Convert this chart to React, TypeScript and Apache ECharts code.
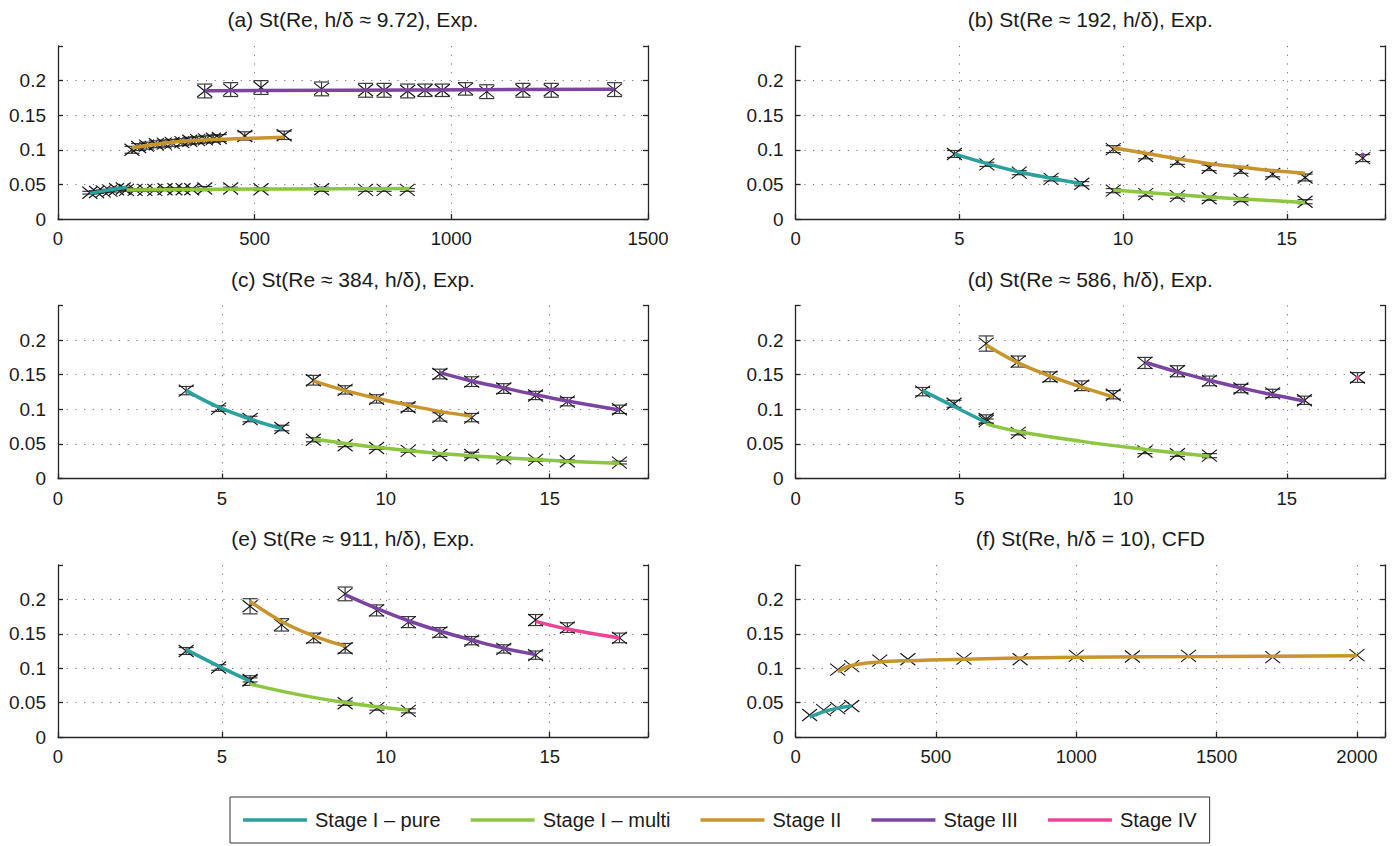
import React, { useEffect, useRef } from 'react';
import * as echarts from 'echarts';

// ---------- legend / stages ----------
const STAGES = ['Stage I – pure', 'Stage I – multi', 'Stage II', 'Stage III', 'Stage IV'];
const COLORS = ['#2aa19c', '#8dc641', '#c8952c', '#7b44a0', '#ec4496'];

// ---------- tick labels ----------
const Y_TICKS = [0, 0.05, 0.1, 0.15, 0.2];
const X_TICKS_A = [0, 500, 1000, 1500];
const X_TICKS_H = [0, 5, 10, 15];
const X_TICKS_F = [0, 500, 1000, 1500, 2000];

const TITLES = [
  '(a) St(Re, h/δ ≈ 9.72), Exp.',
  '(b) St(Re ≈ 192, h/δ), Exp.',
  '(c) St(Re ≈ 384, h/δ), Exp.',
  '(d) St(Re ≈ 586, h/δ), Exp.',
  '(e) St(Re ≈ 911, h/δ), Exp.',
  '(f) St(Re, h/δ = 10), CFD',
];

// ---------- panel (a): [x, St, error] ----------
const a_pure_pts = [[81, 0.038, 0.002], [98, 0.039, 0.002], [115, 0.04, 0.002], [132, 0.041, 0.002], [149, 0.043, 0.002], [166, 0.044, 0.002]];
const a_pure_fit = [[81, 0.037], [120, 0.041], [174, 0.046]];
const a_multi_pts = [[174, 0.042, 0.002], [196, 0.042, 0.002], [221, 0.042, 0.002], [246, 0.042, 0.002], [272, 0.043, 0.002], [297, 0.043, 0.002], [318, 0.043, 0.002], [340, 0.043, 0.002], [373, 0.044, 0.003], [439, 0.044, 0.002], [516, 0.043, 0.002], [670, 0.043, 0.003], [782, 0.042, 0.002], [829, 0.042, 0.002], [888, 0.042, 0.002]];
const a_multi_fit = [[174, 0.042], [400, 0.043], [894, 0.044]];
const a_II_pts = [[188, 0.1, 0.005], [205, 0.104, 0.005], [225, 0.106, 0.005], [250, 0.108, 0.005], [270, 0.109, 0.005], [290, 0.11, 0.005], [315, 0.111, 0.005], [335, 0.113, 0.005], [355, 0.114, 0.005], [375, 0.115, 0.005], [395, 0.116, 0.005], [410, 0.117, 0.005], [475, 0.12, 0.006], [575, 0.121, 0.006]];
const a_II_fit = [[188, 0.103], [250, 0.108], [331, 0.113], [450, 0.116], [575, 0.118]];
const a_III_pts = [[373, 0.185, 0.01], [439, 0.187, 0.01], [516, 0.19, 0.01], [670, 0.188, 0.01], [782, 0.186, 0.01], [829, 0.186, 0.01], [889, 0.185, 0.01], [933, 0.186, 0.009], [977, 0.186, 0.009], [1036, 0.188, 0.009], [1090, 0.184, 0.01], [1182, 0.186, 0.01], [1254, 0.186, 0.01], [1415, 0.187, 0.01]];
const a_III_fit = [[373, 0.1855], [900, 0.1865], [1415, 0.1875]];

// ---------- panel (b) ----------
const b_pure_pts = [[4.85, 0.094, 0.005], [5.84, 0.079, 0.003], [6.83, 0.067, 0.003], [7.8, 0.058, 0.003], [8.74, 0.051, 0.003]];
const b_pure_fit = [[4.85, 0.094], [5.84, 0.08], [6.83, 0.068], [7.8, 0.059], [8.74, 0.051]];
const b_multi_pts = [[9.7, 0.041, 0.003], [10.69, 0.036, 0.003], [11.66, 0.033, 0.003], [12.63, 0.03, 0.003], [13.6, 0.028, 0.003], [15.56, 0.025, 0.003]];
const b_multi_fit = [[9.7, 0.042], [11.66, 0.035], [13.6, 0.029], [15.56, 0.024]];
const b_II_pts = [[9.7, 0.101, 0.005], [10.69, 0.091, 0.004], [11.66, 0.083, 0.004], [12.63, 0.074, 0.004], [13.6, 0.07, 0.004], [14.57, 0.065, 0.004], [15.56, 0.06, 0.005]];
const b_II_fit = [[9.7, 0.103], [10.69, 0.095], [11.66, 0.087], [12.63, 0.08], [13.6, 0.075], [14.57, 0.07], [15.56, 0.066]];
const b_III_pts = [[17.32, 0.088, 0.005]];
const b_III_dot = [[17.32, 0.093]];

// ---------- panel (c) ----------
const c_pure_pts = [[3.91, 0.127, 0.006], [4.9, 0.101, 0.004], [5.86, 0.086, 0.004], [6.83, 0.073, 0.004]];
const c_pure_fit = [[3.91, 0.127], [4.9, 0.103], [5.86, 0.086], [6.83, 0.072]];
const c_multi_pts = [[7.79, 0.056, 0.003], [8.76, 0.048, 0.002], [9.72, 0.044, 0.002], [10.68, 0.04, 0.002], [11.65, 0.034, 0.002], [12.62, 0.034, 0.004], [13.6, 0.029, 0.002], [14.57, 0.027, 0.002], [15.54, 0.025, 0.002], [17.13, 0.023, 0.002]];
const c_multi_fit = [[7.79, 0.057], [9.72, 0.045], [11.65, 0.036], [13.6, 0.03], [15.54, 0.025], [17.13, 0.022]];
const c_II_pts = [[7.79, 0.142, 0.007], [8.76, 0.128, 0.006], [9.72, 0.115, 0.006], [10.68, 0.103, 0.006], [11.65, 0.089, 0.006], [12.62, 0.088, 0.006]];
const c_II_fit = [[7.79, 0.141], [8.76, 0.127], [9.72, 0.116], [10.68, 0.106], [11.65, 0.097], [12.62, 0.09]];
const c_III_pts = [[11.65, 0.151, 0.007], [12.62, 0.14, 0.007], [13.6, 0.13, 0.007], [14.57, 0.12, 0.006], [15.54, 0.111, 0.006], [17.13, 0.1, 0.006]];
const c_III_fit = [[11.65, 0.153], [12.62, 0.141], [13.6, 0.131], [14.57, 0.121], [15.54, 0.112], [17.13, 0.099]];

// ---------- panel (d) ----------
const d_pure_pts = [[3.88, 0.1255, 0.006], [4.84, 0.108, 0.005], [5.82, 0.086, 0.006]];
const d_pure_fit = [[3.88, 0.127], [4.84, 0.104], [5.82, 0.081]];
const d_multi_pts = [[5.82, 0.083, 0.003], [6.8, 0.066, 0.003], [10.67, 0.039, 0.003], [11.66, 0.035, 0.003], [12.64, 0.033, 0.003]];
const d_multi_fit = [[5.82, 0.079], [6.8, 0.068], [8.69, 0.054], [10.67, 0.042], [11.66, 0.037], [12.64, 0.032]];
const d_II_pts = [[5.82, 0.195, 0.011], [6.8, 0.169, 0.008], [7.77, 0.147, 0.007], [8.74, 0.134, 0.007], [9.7, 0.121, 0.006]];
const d_II_fit = [[5.82, 0.193], [6.8, 0.167], [7.77, 0.148], [8.74, 0.132], [9.7, 0.118]];
const d_III_pts = [[10.67, 0.167, 0.008], [11.66, 0.155, 0.008], [12.64, 0.141, 0.007], [13.6, 0.13, 0.006], [14.57, 0.123, 0.006], [15.54, 0.113, 0.006]];
const d_III_fit = [[10.67, 0.168], [11.66, 0.154], [12.64, 0.142], [13.6, 0.131], [14.57, 0.121], [15.54, 0.112]];
const d_IV_pts = [[17.16, 0.146, 0.007]];
const d_IV_dot = [[17.16, 0.146]];

// ---------- panel (e) ----------
const e_pure_pts = [[3.91, 0.125, 0.005], [4.9, 0.101, 0.004], [5.86, 0.082, 0.007]];
const e_pure_fit = [[3.91, 0.127], [4.9, 0.103], [5.86, 0.081]];
const e_multi_pts = [[5.86, 0.083, 0.003], [8.76, 0.049, 0.003], [9.73, 0.042, 0.003], [10.69, 0.038, 0.003]];
const e_multi_fit = [[5.86, 0.077], [7.3, 0.062], [8.76, 0.05], [9.73, 0.044], [10.69, 0.039]];
const e_II_pts = [[5.86, 0.19, 0.011], [6.82, 0.163, 0.009], [7.8, 0.144, 0.007], [8.76, 0.129, 0.007]];
const e_II_fit = [[5.86, 0.197], [6.82, 0.168], [7.8, 0.147], [8.76, 0.132]];
const e_III_pts = [[8.76, 0.208, 0.01], [9.72, 0.184, 0.008], [10.69, 0.167, 0.008], [11.65, 0.152, 0.007], [12.62, 0.14, 0.006], [13.6, 0.128, 0.006], [14.57, 0.119, 0.006]];
const e_III_fit = [[8.76, 0.207], [9.72, 0.187], [10.69, 0.169], [11.65, 0.154], [12.62, 0.141], [13.6, 0.129], [14.57, 0.12]];
const e_IV_pts = [[14.57, 0.17, 0.008], [15.54, 0.159, 0.007], [17.13, 0.144, 0.007]];
const e_IV_fit = [[14.57, 0.168], [15.54, 0.157], [17.13, 0.144]];

// ---------- panel (f): CFD, no error bars ----------
const f_pure_pts = [[50, 0.032, 0], [100, 0.039, 0], [150, 0.042, 0], [200, 0.045, 0]];
const f_pure_fit = [[50, 0.029], [100, 0.037], [150, 0.042], [200, 0.045]];
const f_II_pts = [[150, 0.098, 0], [200, 0.103, 0], [300, 0.111, 0], [400, 0.113, 0], [600, 0.114, 0], [800, 0.113, 0], [1000, 0.118, 0], [1200, 0.117, 0], [1400, 0.118, 0], [1700, 0.116, 0], [2000, 0.119, 0]];
const f_II_fit = [[150, 0.095], [200, 0.104], [300, 0.109], [400, 0.111], [600, 0.113], [1000, 0.116], [1500, 0.117], [2000, 0.118]];

type Group = { stage: number; pts: number[][]; fit: number[][]; dot?: boolean };

const PANELS: { xMax: number; ticks: number[]; groups: Group[] }[] = [
  {
    xMax: 1500, ticks: X_TICKS_A, groups: [
      { stage: 0, pts: a_pure_pts, fit: a_pure_fit },
      { stage: 1, pts: a_multi_pts, fit: a_multi_fit },
      { stage: 2, pts: a_II_pts, fit: a_II_fit },
      { stage: 3, pts: a_III_pts, fit: a_III_fit },
    ],
  },
  {
    xMax: 18, ticks: X_TICKS_H, groups: [
      { stage: 0, pts: b_pure_pts, fit: b_pure_fit },
      { stage: 1, pts: b_multi_pts, fit: b_multi_fit },
      { stage: 2, pts: b_II_pts, fit: b_II_fit },
      { stage: 3, pts: b_III_pts, fit: b_III_dot, dot: true },
    ],
  },
  {
    xMax: 18, ticks: X_TICKS_H, groups: [
      { stage: 0, pts: c_pure_pts, fit: c_pure_fit },
      { stage: 1, pts: c_multi_pts, fit: c_multi_fit },
      { stage: 2, pts: c_II_pts, fit: c_II_fit },
      { stage: 3, pts: c_III_pts, fit: c_III_fit },
    ],
  },
  {
    xMax: 18, ticks: X_TICKS_H, groups: [
      { stage: 0, pts: d_pure_pts, fit: d_pure_fit },
      { stage: 1, pts: d_multi_pts, fit: d_multi_fit },
      { stage: 2, pts: d_II_pts, fit: d_II_fit },
      { stage: 3, pts: d_III_pts, fit: d_III_fit },
      { stage: 4, pts: d_IV_pts, fit: d_IV_dot, dot: true },
    ],
  },
  {
    xMax: 18, ticks: X_TICKS_H, groups: [
      { stage: 0, pts: e_pure_pts, fit: e_pure_fit },
      { stage: 1, pts: e_multi_pts, fit: e_multi_fit },
      { stage: 2, pts: e_II_pts, fit: e_II_fit },
      { stage: 3, pts: e_III_pts, fit: e_III_fit },
      { stage: 4, pts: e_IV_pts, fit: e_IV_fit },
    ],
  },
  {
    xMax: 2100, ticks: X_TICKS_F, groups: [
      { stage: 0, pts: f_pure_pts, fit: f_pure_fit },
      { stage: 2, pts: f_II_pts, fit: f_II_fit },
    ],
  },
];

const FONT = '"Liberation Sans", Arial, Helvetica, sans-serif';
const COL_LEFT = [58, 795.6];
const COL_W = [590, 589.4];
const ROW_TOP = [46, 305.5, 565];
const ROW_H = [173, 173, 172];

const inList = (v: number, list: number[]) => list.some((t) => Math.abs(t - v) < 1e-9);

function buildOption() {
  const grid: any[] = [];
  const xAxis: any[] = [];
  const yAxis: any[] = [];
  const title: any[] = [];
  const series: any[] = [];
  const axisLineStyle = { color: '#262626', width: 1.3 };
  const gridLine = { show: true, showMinLine: false, showMaxLine: false, lineStyle: { color: '#777', width: 1, type: [1.2, 7.5] } };

  PANELS.forEach((p, i) => {
    const col = i % 2;
    const row = Math.floor(i / 2);
    grid.push({ left: COL_LEFT[col], top: ROW_TOP[row], width: COL_W[col], height: ROW_H[row], containLabel: false });
    title.push({
      text: TITLES[i],
      left: COL_LEFT[col] + COL_W[col] / 2,
      top: ROW_TOP[row] - 37,
      textAlign: 'center',
      padding: 0,
      textStyle: { fontFamily: FONT, fontSize: 21, fontWeight: 'normal', color: '#1a1a1a' },
    });
    xAxis.push({
      type: 'value', gridIndex: i, min: 0, max: p.xMax, interval: p.ticks[1] - p.ticks[0],
      axisLine: { show: true, onZero: false, lineStyle: axisLineStyle },
      axisTick: { show: true, inside: true, length: 5, lineStyle: axisLineStyle },
      axisLabel: {
        show: true, margin: 10, color: '#1a1a1a', fontFamily: FONT, fontSize: 18.5,
        formatter: (v: number) => (inList(v, p.ticks) ? String(v) : ''),
      },
      splitLine: gridLine,
    });
    yAxis.push({
      type: 'value', gridIndex: i, min: 0, max: 0.25, interval: 0.05, position: 'left',
      axisLine: { show: true, lineStyle: axisLineStyle },
      axisTick: { show: true, inside: true, length: 5, lineStyle: axisLineStyle },
      axisLabel: {
        show: true, margin: 12, color: '#1a1a1a', fontFamily: FONT, fontSize: 19,
        formatter: (v: number) => {
          const t = Y_TICKS.find((t) => Math.abs(t - v) < 1e-9);
          return t === undefined ? '' : String(t);
        },
      },
      splitLine: gridLine,
    });
    yAxis.push({
      type: 'value', gridIndex: i, min: 0, max: 0.25, interval: 0.05, position: 'right',
      axisLine: { show: true, lineStyle: axisLineStyle },
      axisTick: { show: true, inside: true, length: 5, lineStyle: axisLineStyle },
      axisLabel: { show: false },
      splitLine: { show: false },
    });

    p.groups.forEach((g) => {
      const color = COLORS[g.stage];
      // error bars + X markers
      series.push({
        type: 'custom', name: 'pts', xAxisIndex: i, yAxisIndex: i * 2, z: 2,
        data: g.pts, encode: { x: 0, y: 1 },
        renderItem: (params: any, api: any) => {
          const x = api.value(0), y = api.value(1), e = api.value(2);
          const c = api.coord([x, y]);
          const ch: any[] = [];
          if (e > 0) {
            const t = api.coord([x, y + e])[1];
            const b = api.coord([x, y - e])[1];
            const es = { stroke: '#3a3a3a', lineWidth: 1.2 };
            ch.push({ type: 'line', shape: { x1: c[0], y1: t, x2: c[0], y2: b }, style: es });
            ch.push({ type: 'line', shape: { x1: c[0] - 7.5, y1: t, x2: c[0] + 7.5, y2: t }, style: es });
            ch.push({ type: 'line', shape: { x1: c[0] - 7.5, y1: b, x2: c[0] + 7.5, y2: b }, style: es });
          }
          const ms = { stroke: '#111', lineWidth: 1.1 };
          ch.push({ type: 'line', shape: { x1: c[0] - 7.5, y1: c[1] - 6, x2: c[0] + 7.5, y2: c[1] + 6 }, style: ms });
          ch.push({ type: 'line', shape: { x1: c[0] - 7.5, y1: c[1] + 6, x2: c[0] + 7.5, y2: c[1] - 6 }, style: ms });
          return { type: 'group', children: ch };
        },
      });
      if (g.dot) {
        series.push({
          type: 'line', name: 'dot', xAxisIndex: i, yAxisIndex: i * 2, z: 4,
          data: g.fit, showSymbol: true, symbol: 'circle', symbolSize: 4,
          itemStyle: { color }, lineStyle: { width: 0 },
        });
      } else {
        series.push({
          type: 'line', name: STAGES[g.stage], xAxisIndex: i, yAxisIndex: i * 2, z: 3,
          data: g.fit, smooth: 0.4, showSymbol: false, symbol: 'none',
          itemStyle: { color }, lineStyle: { color, width: 3.5 },
        });
      }
    });
  });

  return {
    animation: false,
    backgroundColor: '#ffffff',
    title,
    grid,
    xAxis,
    yAxis,
    series,
    legend: {
      data: STAGES.map((name) => ({ name, icon: 'rect' })),
      left: 230,
      top: 797,
      orient: 'horizontal',
      borderColor: '#333',
      borderWidth: 1,
      borderRadius: 0,
      padding: [13, 13, 13, 13],
      itemWidth: 64,
      itemHeight: 3.5,
      itemGap: 30,
      selectedMode: false,
      textStyle: { fontFamily: FONT, fontSize: 20, color: '#1a1a1a', padding: [0, 0, 0, 3] },
    },
  };
}

export default function App() {
  const ref = useRef<HTMLDivElement>(null);
  useEffect(() => {
    if (!ref.current) return;
    const chart = echarts.init(ref.current, undefined, { renderer: 'svg' });
    chart.setOption(buildOption() as any);
    return () => chart.dispose();
  }, []);
  return <div ref={ref} style={{ position: 'fixed', left: 0, top: 0, width: 1396, height: 846, background: '#fff' }} />;
}
